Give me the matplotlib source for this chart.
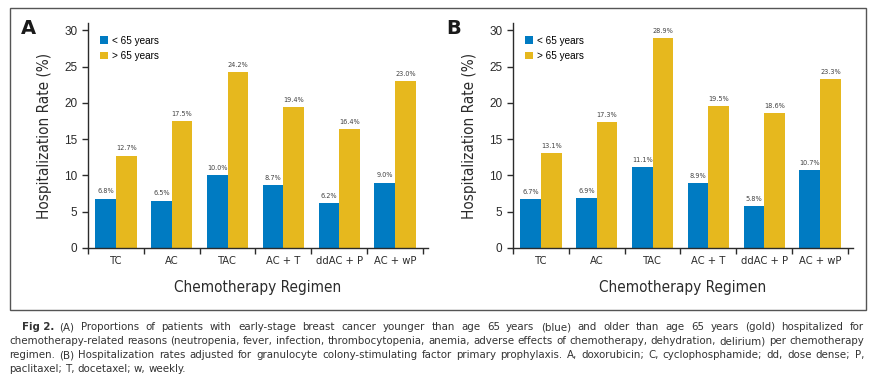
import numpy as np
import matplotlib.pyplot as plt
from matplotlib.patches import Rectangle

regimens = ["TC", "AC", "TAC", "AC + T", "ddAC + P", "AC + wP"]
a_young = [6.8, 6.5, 10.0, 8.7, 6.2, 9.0]
a_old = [12.7, 17.5, 24.2, 19.4, 16.4, 23.0]
b_young = [6.7, 6.9, 11.1, 8.9, 5.8, 10.7]
b_old = [13.1, 17.3, 28.9, 19.5, 18.6, 23.3]
legend_labels = ["< 65 years", "> 65 years"]

caption_lines = [
    "(A) Proportions of patients with early-stage breast cancer younger than age 65 years (blue) and older than age 65 years (gold) hospitalized for",
    "chemotherapy-related reasons (neutropenia, fever, infection, thrombocytopenia, anemia, adverse effects of chemotherapy, dehydration, delirium) per chemotherapy",
    "regimen. (B) Hospitalization rates adjusted for granulocyte colony-stimulating factor primary prophylaxis. A, doxorubicin; C, cyclophosphamide; dd, dose dense; P,",
    "paclitaxel; T, docetaxel; w, weekly.",
]

BLUE = "#007BC2"
GOLD = "#E6B81E"
DARK = "#2b2b2b"
COND = dict(family="DejaVu Sans", stretch="condensed")

plt.rcParams['font.family'] = ["Liberation Sans", "DejaVu Sans"]

W, H = 876, 384
fig = plt.figure(figsize=(W / 100, H / 100), dpi=100)


def px(x0, y0, x1, y1):
    return [x0 / W, 1 - y1 / H, (x1 - x0) / W, (y1 - y0) / H]


def panel(rect, young, old, letter, letter_x):
    ax = fig.add_axes(rect)
    x = np.arange(len(regimens))
    bw = 0.37
    b1 = ax.bar(x - bw / 2, young, bw, color=BLUE, label=legend_labels[0])
    b2 = ax.bar(x + bw / 2, old, bw, color=GOLD, label=legend_labels[1])
    for bars, vals in ((b1, young), (b2, old)):
        for b, v in zip(bars, vals):
            ax.text(b.get_x() + b.get_width() / 2, v + 0.6, "%.1f%%" % v,
                    ha="center", va="bottom", fontsize=5.2, color="#444444", **COND)
    ax.set_xlim(-0.5, 5.59)
    ax.set_ylim(0, 31)
    ax.set_yticks([0, 5, 10, 15, 20, 25, 30])
    ax.set_xticks(x)
    ax.set_xticklabels(regimens, fontsize=8, **COND)
    ax.set_xticks(np.arange(-0.5, 6, 1), minor=True)
    ax.tick_params(axis="x", which="major", length=0, pad=6, colors=DARK)
    ax.tick_params(axis="x", which="minor", length=4, width=1, color=DARK)
    ax.tick_params(axis="y", length=4, width=1, labelsize=8.5, color=DARK, labelcolor=DARK)
    for s in ("top", "right"):
        ax.spines[s].set_visible(False)
    for s in ("left", "bottom"):
        ax.spines[s].set_color(DARK)
        ax.spines[s].set_linewidth(1)
    ax.set_ylabel("Hospitalization Rate (%)", fontsize=11, color=DARK, labelpad=9, **COND)
    ax.set_xlabel("Chemotherapy Regimen", fontsize=11, color=DARK, labelpad=10, **COND)
    ax.legend(loc="upper left", bbox_to_anchor=(0.015, 0.975), frameon=False,
              prop=dict(family="Liberation Sans", size=7.2),
              handlelength=0.8, handleheight=0.8, handletextpad=0.35,
              labelspacing=0.55, borderaxespad=0.3)
    fig.text(letter_x / W, 1 - 28 / H, letter, fontsize=14, fontweight="bold",
             family="DejaVu Sans", color="#1a1a1a", va="center", ha="left")
    return ax


panel(px(88, 23, 428, 248), a_young, a_old, "A", 21)
panel(px(513, 23, 853, 248), b_young, b_old, "B", 446)

# frame around both panels
fig.patches.append(Rectangle((9.5 / W, 1 - 310 / H), (865.5 - 9.5) / W, (310 - 7.5) / H,
                             transform=fig.transFigure, fill=False,
                             edgecolor="#555555", linewidth=1))

# caption, justified by hand
fig.canvas.draw()
renderer = fig.canvas.get_renderer()
cap_kw = dict(fontsize=8.2, color="#333333", va="baseline", **COND)
line_y = [330, 344, 358, 372]
right = 864
for i, line in enumerate(caption_lines):
    x0 = 9
    if i == 0:
        t = fig.text(22 / W, 1 - line_y[0] / H, "Fig 2.", fontweight="bold", **cap_kw)
        x0 = 22 + t.get_window_extent(renderer).width + 5
    words = line.split(" ")
    texts = [fig.text(0, 1 - line_y[i] / H, w, **cap_kw) for w in words]
    widths = [t.get_window_extent(renderer).width for t in texts]
    if i < len(caption_lines) - 1:
        gap = max((right - x0 - sum(widths)) / (len(words) - 1), 1.5)
    else:
        gap = 3.0
    xx = x0
    for t, w in zip(texts, widths):
        t.set_x(xx / W)
        xx += w + gap

fig.savefig("out.png", dpi=100)
